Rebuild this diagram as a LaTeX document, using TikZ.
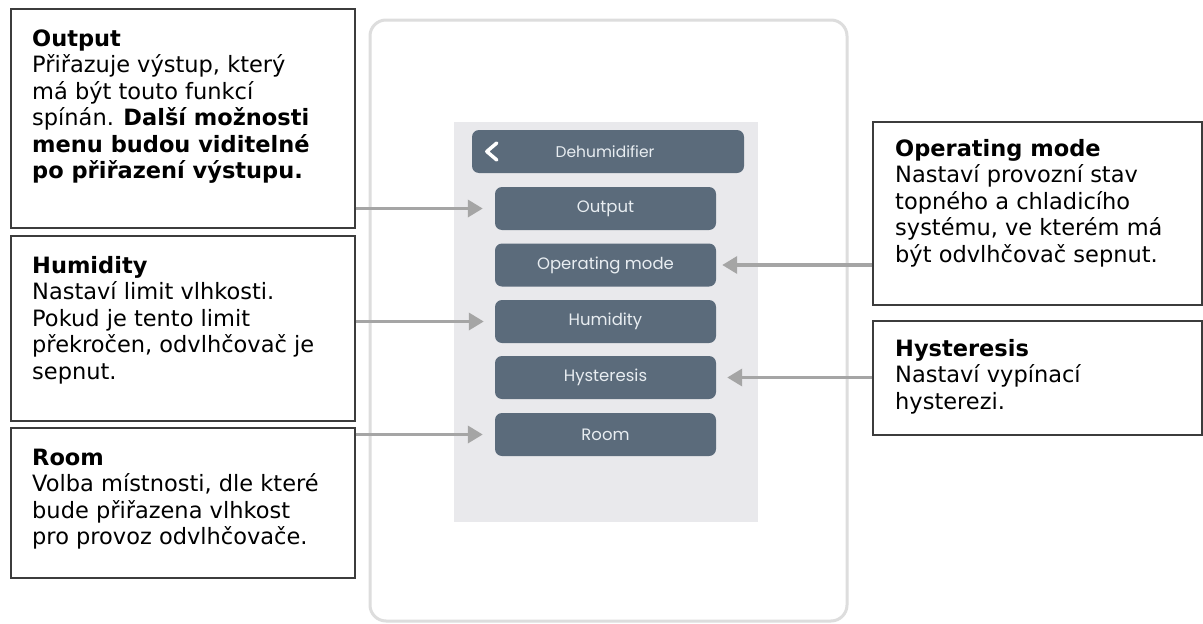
\documentclass[tikz,border=0pt]{standalone}
\usepackage{fontspec}
\setmainfont{DejaVu Sans}
\newfontfamily\uifont{Poppins}
\usetikzlibrary{arrows.meta}

\definecolor{btnfill}{HTML}{5B6B7B}
\definecolor{btntext}{HTML}{E8EDF1}
\definecolor{panelfill}{HTML}{E9E9EC}
\definecolor{framegray}{HTML}{DDDDDD}
\definecolor{pointergray}{HTML}{A5A5A5}
\definecolor{boxline}{HTML}{3C3C3C}

\tikzset{
  infobox/.style={draw=boxline, line width=1.7pt, anchor=north west, inner sep=0pt, fill=white},
  % multi-line text: the base anchor sits on the last line
  infotext/.style={anchor=base west, align=left, inner sep=0pt,
    font=\fontsize{22.5}{26.5}\selectfont},
  menubtn/.style={fill=btnfill, rounded corners=7pt, minimum width=221pt, minimum height=43pt,
    inner sep=0pt, text=btntext, font=\uifont\fontsize{16.5}{18}\selectfont},
  pointer/.style={draw=pointergray, line width=3.5pt, -{Triangle[length=15pt,width=17pt]}},
}

\begin{document}
\begin{tikzpicture}[x=1pt,y=-1pt]
  \useasboundingbox (0,0) rectangle (1203,624);
  \fill[white] (0,0) rectangle (1203,624);

  % device outline and menu panel
  \draw[framegray, line width=3pt, rounded corners=16pt] (370,20) rectangle (847,621);
  \fill[panelfill] (454,122) rectangle (758,522);

  % header bar with back chevron
  \node[menubtn, minimum width=272pt, font=\uifont\fontsize{15.5}{17}\selectfont] (head) at (608,151.5) {\hspace*{-6pt}Dehumidifier};
  \draw[white, line width=3.5pt, line cap=round, line join=round]
    ([shift={(25,-8.5)}]head.west) -- ([shift={(15,0)}]head.west) -- ([shift={(25,8.5)}]head.west);

  % menu entries
  \node[menubtn] (bOut)  at (605.5,208.5) {Output};
  \node[menubtn] (bMode) at (605.5,265)   {Operating mode};
  \node[menubtn] (bHum)  at (605.5,321.5) {Humidity};
  \node[menubtn] (bHys)  at (605.5,377.5) {Hysteresis};
  \node[menubtn] (bRoom) at (605.5,434.5) {Room};

  % description boxes, left
  \node[infobox, minimum width=344pt, minimum height=219pt] (dOut) at (10,8) {};
  \node[infotext] (tOut) at (32,178.5) {\textbf{Output}\\
    Přiřazuje výstup, který\\
    má být touto funkcí\\
    spínán. \textbf{Další možnosti}\\
    \textbf{menu budou viditelné}\\
    \textbf{po přiřazení výstupu.}};

  \node[infobox, minimum width=344pt, minimum height=185pt] (dHum) at (10,235) {};
  \node[infotext] (tHum) at (32,379) {\textbf{Humidity}\\
    Nastaví limit vlhkosti.\\
    Pokud je tento limit\\
    překročen, odvlhčovač je\\
    sepnut.};

  \node[infobox, minimum width=344pt, minimum height=150pt] (dRoom) at (10,427) {};
  \node[infotext] (tRoom) at (32,544.5) {\textbf{Room}\\
    Volba místnosti, dle které\\
    bude přiřazena vlhkost\\
    pro provoz odvlhčovače.};

  % description boxes, right
  \node[infobox, minimum width=329pt, minimum height=183pt] (dMode) at (872,121) {};
  \node[infotext] (tMode) at (895,262) {\textbf{Operating mode}\\
    Nastaví provozní stav\\
    topného a chladicího\\
    systému, ve kterém má\\
    být odvlhčovač sepnut.};

  \node[infobox, minimum width=329pt, minimum height=114pt] (dHys) at (872,320) {};
  \node[infotext] (tHys) at (895,409) {\textbf{Hysteresis}\\
    Nastaví vypínací\\
    hysterezi.};

  % pointers from descriptions to menu entries
  \draw[pointer] (dOut.east |- bOut.west)  -- ([xshift=-12pt]bOut.west);
  \draw[pointer] (dHum.east |- bHum.west)  -- ([xshift=-11pt]bHum.west);
  \draw[pointer] (dRoom.east |- bRoom.west) -- ([xshift=-12pt]bRoom.west);
  \draw[pointer] (dMode.west |- bMode.east) -- ([xshift=6pt]bMode.east);
  \draw[pointer] (dHys.west |- bHys.east)  -- ([xshift=11pt]bHys.east);
\end{tikzpicture}
\end{document}
